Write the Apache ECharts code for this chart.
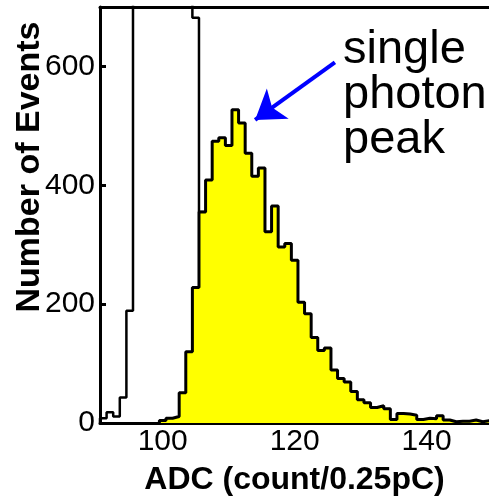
<!DOCTYPE html>
<html><head><meta charset="utf-8">
<script src="https://cdn.jsdelivr.net/npm/echarts@6/dist/echarts.min.js"></script>
<style>html,body{margin:0;padding:0;background:#fff}#c{width:489px;height:504px}</style>
</head><body><div id="c"></div>
<script>
// Single photon spectrum (yellow), bin centres in ADC counts, bin width 1
const signalBins = [100,101,102,103,104,105,106,107,108,109,110,111,112,113,114,115,116,117,118,119,120,121,122,123,124,125,126,127,128,129,130,131,132,133,134,135,136,137,138,139,140,141,142,143,144,145,146,147,148,149,150];
const signalCounts = [4,8,11,51,120,228,355,409,474,480,467,527,505,454,415,429,322,365,296,302,274,203,184,144,122,126,89,75,69,53,39,34,26,29,24,6,16,15,13,6,8,7,12,5,2,3,3,5,2,4,3];
// All events (outline, pedestal); bins 96-104 run off the top of the plot (>700)
const allBins = [91,92,93,94,95,96,97,98,99,100,101,102,103,104,105,106];
const allCounts = [8,18,11,43,189,1200,2600,3600,4000,3500,2600,1700,1100,800,682,355];
const xTickValues = [100,120,140];
const yTickValues = [0,200,400,600];
const xRange = [90.5, 149.45];
const yRange = [0, 700];
const arrowFrom = [126.1, 607];
const arrowTo = [114.0, 510];
const annotationLines = ['single','photon','peak'];
const xTitle = 'ADC (count/0.25pC)';
const yTitle = 'Number of Events';

function stepData(bins, counts, closeEnd) {
  const d = [[bins[0]-0.5, 0]];
  bins.forEach((b,i)=>d.push([b-0.5, counts[i]]));
  const last = bins[bins.length-1];
  d.push([last+0.5, counts[counts.length-1]]);
  if (closeEnd) d.push([last+0.5, 0]);
  return d;
}
const tickFont = '"Liberation Sans", Arial, sans-serif';
const chart = echarts.init(document.getElementById('c'), null, {renderer:'canvas'});
chart.setOption({
  animation:false,
  backgroundColor:'#ffffff',
  grid:{left:100, right:0, top:7, bottom:81, containLabel:false},
  xAxis:[{
    type:'value', min:xRange[0], max:xRange[1], position:'bottom',
    axisLine:{show:true, onZero:false, lineStyle:{color:'#000', width:3}},
    axisTick:{show:false},
    splitLine:{show:false},
    axisLabel:{customValues:xTickValues, color:'#000', fontSize:30, fontFamily:tickFont, margin:4},
    name:xTitle, nameLocation:'middle', nameGap:41,
    nameTextStyle:{color:'#000', fontSize:32, fontWeight:'bold', fontFamily:'"Liberation Sans", Arial, sans-serif'}
  },{
    type:'value', min:xRange[0], max:xRange[1], position:'top',
    axisLine:{show:true, onZero:false, lineStyle:{color:'#000', width:3}},
    axisTick:{show:false}, axisLabel:{show:false}, splitLine:{show:false}
  }],
  yAxis:{
    type:'value', min:yRange[0], max:yRange[1],
    axisLine:{show:true, onZero:false, lineStyle:{color:'#000', width:3}},
    axisTick:{show:true, inside:true, length:6, customValues:yTickValues, lineStyle:{color:'#000', width:3}},
    splitLine:{show:false},
    axisLabel:{customValues:yTickValues, color:'#000', fontSize:30, fontFamily:tickFont, margin:5}
  },
  series:[{
    type:'line', step:'end', symbol:'none', xAxisIndex:0,
    data:stepData(allBins, allCounts, false),
    lineStyle:{color:'#000', width:2.5}, z:2
  },{
    type:'line', step:'end', symbol:'none', xAxisIndex:0,
    data:stepData(signalBins, signalCounts, true),
    lineStyle:{color:'#000', width:3},
    areaStyle:{color:'#ffff00', opacity:1}, z:3,
    markLine:{
      silent:true, symbol:['none','arrow'], symbolSize:28,
      lineStyle:{color:'#0000ff', width:4, type:'solid'},
      label:{show:false},
      data:[[{coord:arrowFrom},{coord:arrowTo}]]
    }
  }],
  graphic:[{
    type:'text', x:30, y:167, rotation:Math.PI/2,
    style:{text:yTitle, font:'bold 34px "Liberation Sans", Arial, sans-serif', fill:'#000', align:'center', verticalAlign:'middle'}
  },{
    type:'text', x:343, y:28,
    style:{text:annotationLines.join('\n'), font:'47px "Liberation Sans", Arial, sans-serif', lineHeight:45, fill:'#000', align:'left', verticalAlign:'top'}
  }]
});
</script></body></html>
